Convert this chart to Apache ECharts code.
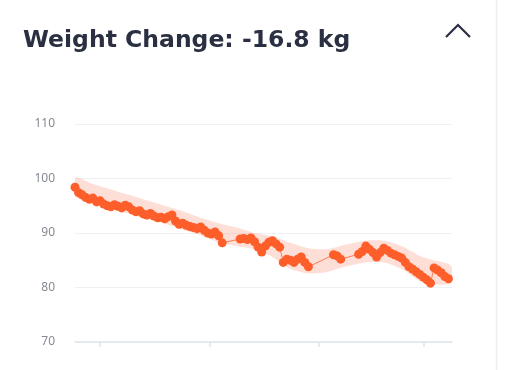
<!DOCTYPE html>
<html><head><meta charset="utf-8">
<script src="https://cdn.jsdelivr.net/npm/echarts@6/dist/echarts.min.js"></script>
<style>html,body{margin:0;padding:0;background:#fff}#c{width:509px;height:370px}</style>
</head><body><div id="c"></div>
<script>
const titleText = "Weight Change: -16.8 kg";
const yTicks = [70, 80, 90, 100, 110];
const xTickDays = [7, 37.5, 68, 97];
// daily weigh-ins: [day, kg]
const days = [0,1,2,3,4,5,6,7,8,9,10,11,12,13,14,15,16,17,18,19,20,21,22,23,24,25,26,27,28,29,30,31,32,33,34,35,36,37,38,39,40,41,
  46,47,48,49,50,51,52,53,54,55,56,57,58,59,60,61,62,63,64,65,72,73,74,79,80,81,82,83,84,85,86,87,88,89,90,91,92,93,94,95,96,97,98,99,100,101,102,103,104];
const weights = [98.4,97.4,97.0,96.5,96.2,96.4,95.7,95.9,95.3,95.0,94.8,95.2,94.9,94.6,95.1,94.8,94.2,93.9,94.1,93.5,93.3,93.6,93.1,92.8,92.9,92.6,93.0,93.3,92.2,91.6,91.8,91.4,91.2,91.0,90.8,91.1,90.5,90.0,89.8,90.2,89.5,88.2,
  88.9,89.0,88.8,89.1,88.4,87.4,86.5,87.6,88.3,88.6,88.0,87.4,84.6,85.2,85.0,84.6,85.2,85.6,84.6,83.8,86.0,85.8,85.2,86.1,86.6,87.6,87.0,86.4,85.6,86.4,87.2,86.8,86.3,86.0,85.7,85.4,84.6,83.8,83.4,82.9,82.4,81.9,81.4,80.8,83.6,83.2,82.7,82.0,81.6];
// confidence band
const bandDays  = [0,5,10,15,20,25,30,35,40,45,50,55,60,65,70,75,81,86,91,96,100,104.7];
const bandUpper = [100.2,99.0,98.0,97.0,96.0,95.0,94.0,92.8,91.8,91.0,90.0,89.4,88.2,87.2,87.0,87.8,88.6,88.6,87.6,85.8,85.0,84.0];
const bandLower = [96.8,95.5,94.3,93.6,92.6,91.7,90.6,89.6,88.3,87.6,87.0,85.6,83.4,82.6,82.8,83.8,84.6,84.6,83.4,81.2,80.6,80.8];

const chart = echarts.init(document.getElementById('c'), null, {renderer:'canvas'});
const pts = days.map((d,i)=>[d, weights[i]]);
const orange = '#fd5e2a';
chart.setOption({
  animation:false,
  title:{text:titleText,left:18,top:24,textStyle:{fontFamily:'DejaVu Sans',fontWeight:'bold',fontSize:23.5,color:'#2a3042'}},
  grid:{left:75,right:57,top:124,bottom:28},
  xAxis:{type:'value',min:0,max:105,
    axisLine:{show:true,lineStyle:{color:'#dfe3ee',width:1.5}},
    axisTick:{show:true,customValues:xTickDays,length:5,lineStyle:{color:'#dfe3ee',width:1.5}},
    axisLabel:{show:false},splitLine:{show:false}},
  yAxis:{type:'value',min:70,max:110,interval:10,
    axisLine:{show:false},axisTick:{show:false},
    axisLabel:{margin:20,fontSize:12,color:'#858a94',fontFamily:'Noto Sans'},
    splitLine:{lineStyle:{color:'#eef0f5',width:1.2}}},
  series:[
    {type:'custom',data:[[0]],silent:true,clip:true,z:1,
      renderItem:function(params, api){
        const up = bandDays.map((d,i)=>api.coord([d, bandUpper[i]]));
        const lo = bandDays.map((d,i)=>api.coord([d, bandLower[i]])).reverse();
        return {type:'polygon',shape:{points:up.concat(lo),smooth:0.25},style:{fill:'rgba(252,150,125,0.3)',stroke:null}};
      }},
    {type:'line',data:pts,symbol:'circle',symbolSize:9,showAllSymbol:true,z:3,
      itemStyle:{color:orange},lineStyle:{color:'#fd7a50',width:1}}
  ],
  graphic:[
    {type:'polyline',shape:{points:[[446,37],[458,25],[470,37]]},style:{stroke:'#2a3042',lineWidth:2.2,fill:null}},
    {type:'line',shape:{x1:496.5,y1:0,x2:496.5,y2:370},style:{stroke:'#eceef2',lineWidth:1.5}}
  ]
});
</script></body></html>
